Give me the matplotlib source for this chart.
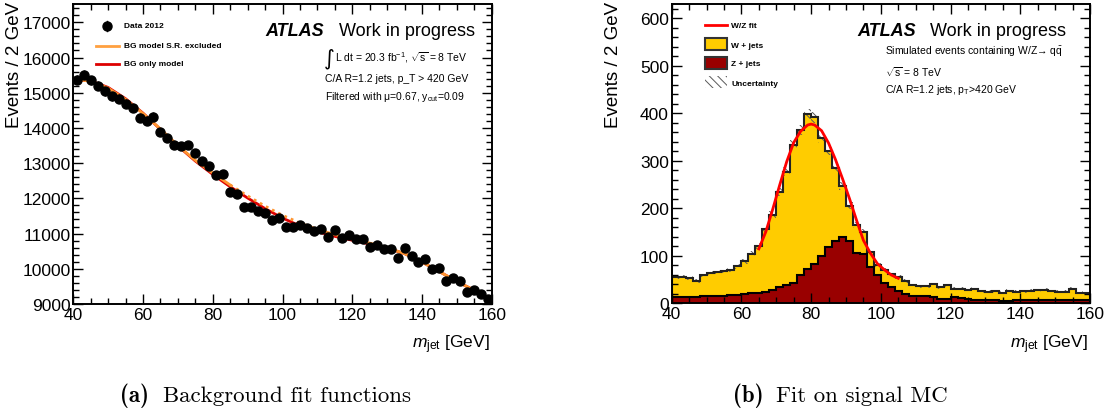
import numpy as np
import matplotlib
matplotlib.use('Agg')
import matplotlib.pyplot as plt
from matplotlib.lines import Line2D
from matplotlib.patches import Rectangle

plt.rcParams['font.family'] = ['Liberation Sans', 'DejaVu Sans']
plt.rcParams['mathtext.fontset'] = 'custom'
plt.rcParams['mathtext.rm'] = 'Liberation Sans'
plt.rcParams['mathtext.it'] = 'Liberation Sans:italic'
plt.rcParams['mathtext.bf'] = 'Liberation Sans:bold'
plt.rcParams['hatch.linewidth'] = 0.7

# ---- left panel: data 2012 and background fits
bin_centres = np.arange(41, 160, 2)
data_2012 = [15370, 15515, 15350, 15200, 15040, 14900, 14830, 14690, 14560, 14295,
             14210, 14320, 13880, 13725, 13525, 13480, 13525, 13295, 13060, 12925,
             12665, 12700, 12175, 12125, 11750, 11750, 11635, 11580, 11395, 11430,
             11200, 11180, 11245, 11150, 11085, 11130, 10895, 11110, 10865, 10960,
             10850, 10850, 10610, 10685, 10565, 10565, 10320, 10580, 10375, 10205,
             10280, 9995, 10035, 9655, 9750, 9655, 9330, 9405, 9275, 9140]

fit_x = [40, 45, 50, 55, 60, 65, 70, 75, 80, 85, 90, 95, 100, 105, 110, 115, 120,
         125, 130, 135, 140, 145, 150, 155, 160]
bg_sr_excluded = [15380, 15330, 15130, 14810, 14410, 13970, 13500, 13080, 12720, 12380,
                  12070, 11780, 11520, 11300, 11120, 10970, 10850, 10730, 10600, 10430,
                  10190, 9920, 9640, 9390, 9130]
bg_only = [15370, 15340, 15150, 14830, 14420, 13960, 13490, 13060, 12680, 12330,
           12010, 11710, 11440, 11220, 11050, 10920, 10810, 10700, 10590, 10430,
           10190, 9920, 9640, 9390, 9130]

# ---- right panel: simulated W/Z + jets
edges = np.arange(40, 162, 2)
z_jets = [12, 13, 13, 12, 14, 14, 15, 15, 16, 17, 19, 21, 22, 24, 28, 33, 38, 42, 60, 71,
          82, 100, 118, 131, 139, 130, 106, 103, 75, 58, 42, 33, 25, 19, 15, 15, 14, 13, 9, 9,
          13, 11, 8, 7, 6, 6, 6, 5, 5, 6, 6, 6, 6, 6, 7, 6, 6, 6, 7, 7]
w_jets = [42, 41, 40, 35, 44, 49, 50, 52, 54, 60, 69, 83, 98, 132, 158, 201, 239, 291, 305, 327,
          309, 247, 202, 153, 107, 75, 58, 47, 32, 22, 28, 29, 30, 28, 23, 20, 21, 27, 24, 28,
          17, 19, 20, 23, 19, 18, 19, 17, 21, 18, 19, 20, 21, 22, 19, 18, 18, 24, 15, 14]
uncertainty = [4, 4, 4, 4, 4, 4, 4, 4, 4, 5, 5, 5, 6, 7, 7, 8, 9, 10, 10, 11,
               11, 10, 9, 9, 8, 7, 7, 6, 5, 5, 4, 4, 4, 4, 3, 3, 3, 3, 3, 3,
               3, 3, 3, 3, 3, 3, 3, 3, 3, 3, 3, 3, 3, 3, 3, 3, 3, 3, 3, 3]
wz_fit_x = [65, 67, 69, 71, 73, 75, 77, 79, 80, 81, 83, 85, 87, 89, 91, 93, 95, 97, 99,
            101, 103, 105]
wz_fit = [114, 150, 198, 249, 298, 338, 362, 375, 377, 375, 363, 337, 302, 262, 220, 175,
          132, 105, 83, 70, 59, 52]

W, H = 1114, 414
fig = plt.figure(figsize=(W / 100, H / 100), dpi=100)


def fx(x):
    return x / W


def fy(y):
    return 1 - y / H


ax1 = fig.add_axes([fx(73.3), fy(305), (491.7 - 73.3) / W, 300 / H])
ax2 = fig.add_axes([fx(671.7), fy(304), (1090 - 671.7) / W, 299 / H])

for ax in (ax1, ax2):
    ax.tick_params(which='both', direction='in', top=True, right=True, labelsize=12.5, pad=2)
    ax.tick_params(which='major', length=7.5, width=1)
    ax.tick_params(which='minor', length=4.3, width=1)
    for s in ax.spines.values():
        s.set_linewidth(1.4)
    ax.set_xlim(40, 160)
    ax.set_xticks(np.arange(40, 161, 20))
    ax.set_xticks(np.arange(40, 161, 5), minor=True)

# left
data_2012 = np.array(data_2012)
ax1.errorbar(bin_centres, data_2012, yerr=np.sqrt(data_2012), fmt='o', color='black',
             markersize=6.5, elinewidth=1, capsize=0, zorder=5)
fit_x = np.array(fit_x)
bg_sr_excluded = np.array(bg_sr_excluded)
ax1.plot(fit_x, bg_only, color='#dd0000', lw=2, zorder=3)
lo = fit_x <= 85
hi = fit_x >= 105
mid = (fit_x >= 85) & (fit_x <= 105)
ax1.plot(fit_x[lo], bg_sr_excluded[lo], color='#ff9530', lw=2, zorder=4)
ax1.plot(fit_x[hi], bg_sr_excluded[hi], color='#ff9530', lw=2, zorder=4)
ax1.plot(fit_x[mid], bg_sr_excluded[mid], color='#ff9530', lw=2, ls=(0, (1, 1.5)), zorder=4)
ax1.set_ylim(9000, 17520)
ax1.set_yticks(np.arange(9000, 17001, 1000))
ax1.set_yticks(np.arange(9000, 17500, 200), minor=True)

# right
z_jets = np.array(z_jets)
total = z_jets + np.array(w_jets)
uncertainty = np.array(uncertainty)
ax2.stairs(total, edges, baseline=z_jets, fill=True, color='#ffcc00', lw=0)
ax2.stairs(z_jets, edges, baseline=0, fill=True, color='#990000', lw=0)
ax2.stairs(total + uncertainty, edges, baseline=total - uncertainty, fill=True,
           facecolor='none', edgecolor='0.35', hatch='\\\\\\\\', lw=0)
ax2.stairs(total, edges, color='#222222', lw=1.5)
ax2.stairs(z_jets, edges, color='black', lw=1.5)
ax2.plot(wz_fit_x, wz_fit, color='#ff0000', lw=2, zorder=5)
ax2.set_ylim(0, 630)
ax2.set_yticks(np.arange(0, 601, 100))
ax2.set_yticks(np.arange(0, 630, 20), minor=True)

# axis labels
for x0, xr in ((15, 490), (613, 1088)):
    fig.text(fx(x0), fy(2), 'Events / 2 GeV', rotation=90, ha='center', va='top', fontsize=13.5)
    fig.text(fx(xr), fy(345), r'$m_{\mathrm{jet}}$ [GeV]', ha='right', va='center', fontsize=12.5)

# left legend
fig.add_artist(Line2D([fx(107)], [fy(27)], marker='o', color='black', markersize=6.5))
fig.add_artist(Line2D([fx(107)] * 2, [fy(22), fy(32)], color='black', lw=1))
fig.add_artist(Line2D([fx(96), fx(119)], [fy(47)] * 2, color='#ffa040', lw=2))
fig.add_artist(Line2D([fx(96), fx(119)], [fy(65)] * 2, color='#dd0000', lw=2))
for txt, y in (('Data 2012', 27), ('BG model S.R. excluded', 47), ('BG only model', 65)):
    fig.text(fx(124), fy(y), txt, ha='left', va='center', fontsize=6, fontweight='bold')

fig.text(fx(265), fy(31), 'ATLAS', fontsize=13, fontweight='bold', fontstyle='italic', va='center')
fig.text(fx(339), fy(31), 'Work in progress', fontsize=13, va='center')
fig.text(fx(324), fy(59), '\u222b', family='DejaVu Sans', fontsize=15, va='center')
fig.text(fx(335), fy(58), r'L dt = 20.3 fb$^{\mathrm{-1}}$, $\sqrt{\mathrm{s}}$ = 8 TeV',
         fontsize=7.5, va='center')
fig.text(fx(325), fy(79), 'C/A R=1.2 jets, p_T > 420 GeV', fontsize=7.5, va='center')
fig.text(fx(325), fy(97), r'Filtered with $\mathrm{\mu}$=0.67, y$_{\mathrm{cut}}$=0.09',
         fontsize=7.5, va='center')

# right legend
fig.add_artist(Line2D([fx(705), fx(727)], [fy(26)] * 2, color='#ff0000', lw=2))
fig.add_artist(Rectangle((fx(705), fy(51)), 22 / W, 12 / H, transform=fig.transFigure,
                         facecolor='#ffcc00', edgecolor='#333333', lw=1.5))
fig.add_artist(Rectangle((fx(705), fy(70)), 22 / W, 12 / H, transform=fig.transFigure,
                         facecolor='#990000', edgecolor='#333333', lw=1.5))
fig.add_artist(Rectangle((fx(705), fy(89)), 22 / W, 12 / H, transform=fig.transFigure,
                         facecolor='none', edgecolor='0.35', hatch='\\\\\\\\', lw=0))
for txt, y in (('W/Z fit', 26), ('W + jets', 46), ('Z + jets', 65), ('Uncertainty', 84)):
    fig.text(fx(731), fy(y), txt, ha='left', va='center', fontsize=6, fontweight='bold')

fig.text(fx(857), fy(31), 'ATLAS', fontsize=13, fontweight='bold', fontstyle='italic', va='center')
fig.text(fx(930), fy(31), 'Work in progress', fontsize=13, va='center')
fig.text(fx(885), fy(52), 'Simulated events containing W/Z\u2192 q$\\bar{\\mathrm{q}}$',
         fontsize=7.5, va='center')
fig.text(fx(885), fy(72), r'$\sqrt{\mathrm{s}}$ = 8 TeV', fontsize=7.5, va='center')
fig.text(fx(885), fy(90), r'C/A R=1.2 jets, p$_{\mathrm{T}}$>420 GeV', fontsize=7.5, va='center')

# captions
fig.text(fx(120), fy(396), '(a)', family='cmb10', fontsize=16.5, va='center')
fig.text(fx(163), fy(396), 'Background fit functions', family='cmr10', fontsize=16.5, va='center')
fig.text(fx(733), fy(396), '(b)', family='cmb10', fontsize=16.5, va='center')
fig.text(fx(776), fy(396), 'Fit on signal MC', family='cmr10', fontsize=16.5, va='center')

fig.savefig('out.png', dpi=100)
